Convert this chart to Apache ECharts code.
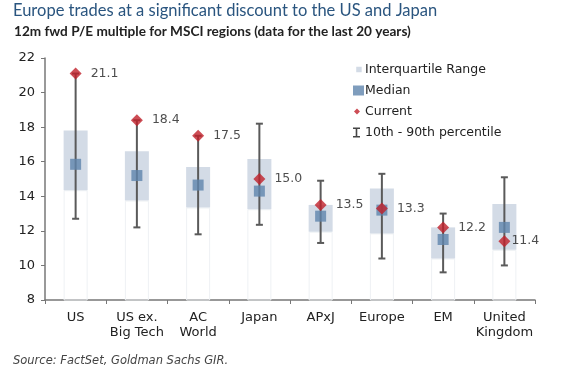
<!DOCTYPE html>
<html><head><meta charset="utf-8">
<script src="https://cdn.jsdelivr.net/npm/echarts@6/dist/echarts.min.js"></script>
<style>html,body{margin:0;padding:0;background:#fff}#c{width:574px;height:371px}</style>
</head><body><div id="c"></div>
<script>
const categories = ['US', 'US ex.\nBig Tech', 'AC\nWorld', 'Japan', 'APxJ', 'Europe', 'EM', 'United\nKingdom'];
const p10 = [12.7, 12.2, 11.8, 12.35, 11.3, 10.4, 9.6, 10.0];
const p90 = [21.1, 18.4, 17.5, 18.2, 14.9, 15.3, 13.0, 15.1];
const q1 = [14.35, 13.75, 13.35, 13.25, 11.95, 11.85, 10.4, 10.9];
const q3 = [17.8, 16.6, 15.7, 16.15, 13.5, 14.45, 12.2, 13.55];
const median = [15.85, 15.2, 14.65, 14.3, 12.85, 13.2, 11.5, 12.2];
const current = [21.1, 18.4, 17.5, 15.0, 13.5, 13.3, 12.2, 11.4];
const yTicks = [8, 10, 12, 14, 16, 18, 20, 22];

const chart = echarts.init(document.getElementById('c'), null, {renderer: 'canvas'});
const iqr = q3.map((v, i) => +(v - q1[i]).toFixed(2));
const whiskerData = categories.map((c, i) => [i, p10[i], p90[i]]);
const font = '"DejaVu Sans", Arial, sans-serif';

chart.setOption({
  animation: false,
  textStyle: {fontFamily: font},
  title: [
    {text: 'Europe trades at a significant discount to the US and Japan', left: 13, top: 2, padding: 0,
     textStyle: {fontFamily: 'Lato, "Open Sans", sans-serif', fontSize: 16.5, fontWeight: 'normal', color: '#2a557f'}},
    {text: '12m fwd P/E multiple for MSCI regions (data for the last 20 years)', left: 9, top: 20,
     textStyle: {fontFamily: 'Lato, sans-serif', fontSize: 13.6, fontWeight: 'bold', color: '#222'}},
    {text: 'Source: FactSet, Goldman Sachs GIR.', left: 8, top: 350,
     textStyle: {fontFamily: font, fontSize: 11.5, fontStyle: 'italic', fontWeight: 'normal', color: '#444'}}
  ],
  legend: {
    orient: 'vertical', left: 348, top: 57, itemWidth: 11, itemHeight: 10, itemGap: 6,
    textStyle: {fontFamily: font, fontSize: 12.5, color: '#222', lineHeight: 15, padding: [0, 0, 0, -4]},
    data: [
      {name: 'Interquartile Range', icon: 'path://M0,0L0.01,0M3,2.5H9V8.5H3ZM11,11L11.01,11', itemStyle: {color: '#d3dbe6'}},
      {name: 'Median', icon: 'rect', itemStyle: {color: '#5f84ac'}},
      {name: 'Current', icon: 'path://M0,0L0.01,0M4,2L7,5L4,8L1,5ZM11,10L11.01,10', itemStyle: {color: '#c0212b'}},
      {name: '10th - 90th percentile', icon: 'path://M0,0H7V1.6H4.3V8.4H7V10H0V8.4H2.7V1.6H0ZM11,10L11.01,10', itemStyle: {color: '#444'}}
    ]
  },
  grid: {left: 45, right: 39, top: 58, bottom: 71},
  xAxis: {
    type: 'category', data: categories,
    axisLine: {lineStyle: {color: '#777', width: 1.5}},
    axisTick: {show: true, length: 4, lineStyle: {color: '#777'}},
    axisLabel: {fontFamily: font, fontSize: 13, color: '#222', lineHeight: 15, margin: 10, interval: 0}
  },
  yAxis: {
    type: 'value', min: 8, max: 22, interval: 2,
    axisLine: {show: true, lineStyle: {color: '#777', width: 1.5}},
    axisTick: {show: true, length: 4, lineStyle: {color: '#777'}},
    splitLine: {show: false},
    axisLabel: {fontFamily: font, fontSize: 13, color: '#222', margin: 10,
      formatter: v => yTicks.includes(v) ? String(v) : ''}
  },
  series: [
    {name: 'base', type: 'bar', stack: 'iqr', data: q1, barWidth: 24, silent: true,
     itemStyle: {color: 'rgba(0,0,0,0)', borderColor: '#eef1f4', borderWidth: 1}},
    {name: 'Interquartile Range', type: 'bar', stack: 'iqr', data: iqr, barWidth: 24,
     itemStyle: {color: '#d3dbe6'}},
    {name: '10th - 90th percentile', type: 'custom', data: whiskerData, z: 3,
     itemStyle: {color: '#444'},
     renderItem: function (params, api) {
       const lo = api.coord([api.value(0), api.value(1)]);
       const hi = api.coord([api.value(0), api.value(2)]);
       const w = 3.5;
       const st = {stroke: '#5a5a5a', lineWidth: 2};
       return {type: 'group', children: [
         {type: 'line', shape: {x1: lo[0], y1: lo[1], x2: hi[0], y2: hi[1]}, style: st},
         {type: 'line', shape: {x1: lo[0] - w, y1: lo[1], x2: lo[0] + w, y2: lo[1]}, style: st},
         {type: 'line', shape: {x1: hi[0] - w, y1: hi[1], x2: hi[0] + w, y2: hi[1]}, style: st}
       ]};
     }},
    {name: 'Median', type: 'scatter', data: median, symbol: 'rect', symbolSize: 11, z: 4,
     itemStyle: {color: '#5f84ac'}},
    {name: 'Current', type: 'scatter', data: current.map((v, i) => ({
        value: v,
        label: {distance: i === 7 ? 1 : 9}
      })), symbol: 'diamond', symbolSize: 12, z: 5,
     itemStyle: {color: '#c0212b'},
     label: {show: true, position: 'right', fontFamily: font, fontSize: 12.5, color: '#222',
       formatter: p => p.value.toFixed(1)}}
  ]
});
</script></body></html>
